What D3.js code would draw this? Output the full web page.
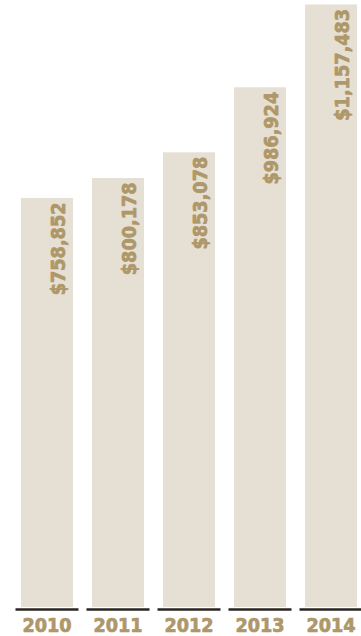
<!DOCTYPE html>
<html>
<head>
<meta charset="utf-8">
<script src="https://cdn.jsdelivr.net/npm/d3@7"></script>
<style>
  html, body { margin: 0; padding: 0; background: #fff; }
  svg { display: block; }
</style>
</head>
<body>
<svg id="chart" width="361" height="636"></svg>
<script>
// Yearly totals, in dollars
const years = ["2010", "2011", "2012", "2013", "2014"];
const totals = [758852, 800178, 853078, 986924, 1157483];

const baseY = 607;      // bottom of the bars
const ruleY = 609.5;    // dark rule under each bar
const labelY = 631.5;   // year label baseline

const gold = "#ae9769";
const barFill = "#e6dfd3";
const ruleColor = "#2a2522";

const svg = d3.select("#chart");

const data = years.map((y, i) => ({ year: y, value: totals[i] }));

// Bars and rules share the same step, with different inner padding
const xBar = d3.scaleBand().domain(years).range([11.5, 366.5])
  .paddingInner(19 / 71).paddingOuter(9.5 / 71);
const xRule = d3.scaleBand().domain(years).range([11.5, 366.5])
  .paddingInner(8 / 71).paddingOuter(4 / 71);
const xMid = d3.scaleBand().domain(years).range([11.5, 366.5]);
const mid = d => xMid(d) + xMid.bandwidth() / 2;

const y = d3.scaleLinear().domain([0, d3.max(totals)]).range([566.5, 4.5]);

const fmt = d3.format("$,");

// Heavy, slightly condensed label type
function heavy(sel) {
  sel.attr("font-family", "DejaVu Sans")
    .attr("font-weight", "bold")
    .attr("font-size", 19)
    .attr("fill", gold)
    .attr("stroke", gold)
    .attr("stroke-width", 0.7)
    .attr("stroke-linejoin", "round");
}

svg.append("g").selectAll("rect")
  .data(data).join("rect")
  .attr("x", d => xBar(d.year))
  .attr("y", d => y(d.value))
  .attr("width", xBar.bandwidth())
  .attr("height", d => baseY - y(d.value))
  .attr("fill", barFill);

svg.append("g").selectAll("line")
  .data(data).join("line")
  .attr("x1", d => xRule(d.year))
  .attr("x2", d => xRule(d.year) + xRule.bandwidth())
  .attr("y1", ruleY).attr("y2", ruleY)
  .attr("stroke", ruleColor)
  .attr("stroke-width", 2.5);

// Value labels, rotated inside the top of each bar
svg.append("g").selectAll("text")
  .data(data).join("text")
  .attr("transform", d => `translate(${mid(d.year) + 17.5},${y(d.value) + 4.5}) rotate(-90) scale(0.93,1)`)
  .attr("text-anchor", "end")
  .call(heavy)
  .text(d => fmt(d.value));

// Year labels
svg.append("g").selectAll("text")
  .data(data).join("text")
  .attr("transform", d => `translate(${mid(d.year)},${labelY}) scale(0.93,1)`)
  .attr("text-anchor", "middle")
  .call(heavy)
  .text(d => d.year);
</script>
</body>
</html>
